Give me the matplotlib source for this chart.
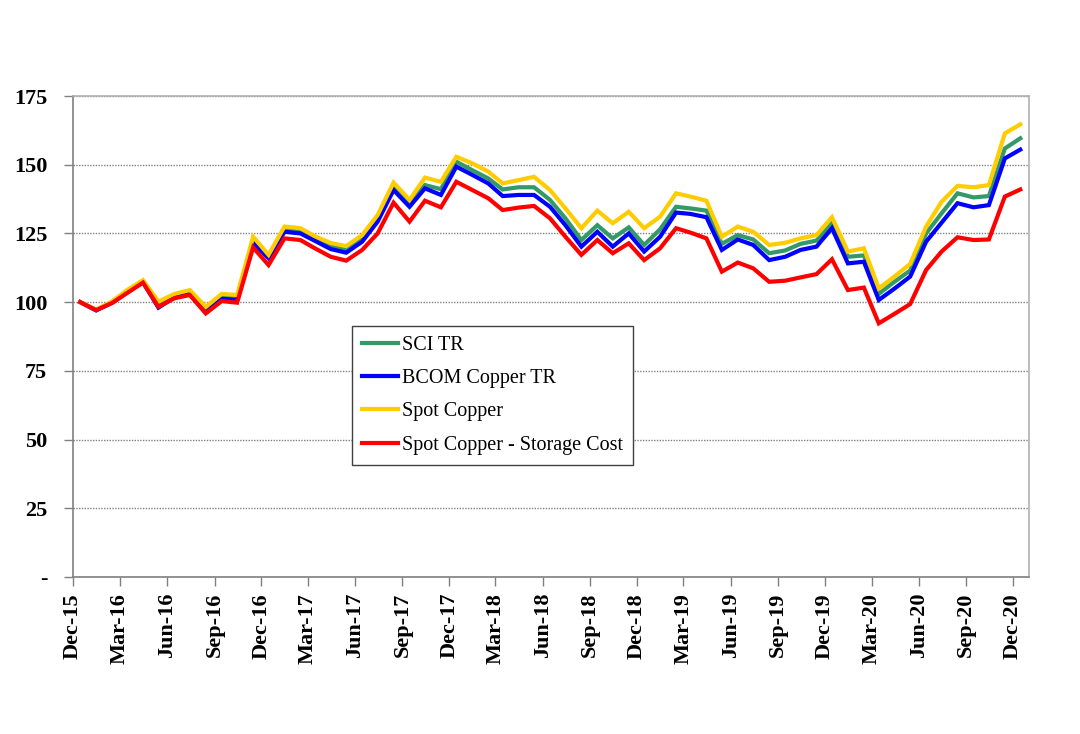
import matplotlib.pyplot as plt
import pandas as pd

# monthly index levels, Dec-15 = 100
months = pd.date_range('2015-12-01', '2020-12-01', freq='MS')
tick_months = pd.date_range('2015-12-01', '2020-12-01', freq='3MS')

sci_tr = [100, 97.1, 100, 103.8, 107.6, 98.8, 102.2, 103.5, 96.8, 101.8, 101.5,
          122.3, 116.5, 126.3, 125.7, 123, 120.2, 119, 123, 130.3, 141.9, 135.8,
          142.6, 141.1, 151.1, 148, 145, 141, 141.8, 141.8, 137.2, 130.5, 122.6,
          128, 123.2, 127.2, 120.8, 126.5, 134.7, 134.1, 133.3, 121.2, 124.4,
          122.8, 117.8, 118.8, 121.2, 122.4, 128.7, 116.5, 117, 103, 107.5,
          111.5, 125, 132.3, 139.6, 138.1, 138.6, 155.9, 159.6]
bcom_tr = [100, 97, 99.8, 103.5, 107.3, 98, 101.8, 103, 96.2, 101.2, 100.8,
           121.5, 116, 125.6, 125, 122.3, 119.3, 118, 122, 129.3, 140.8, 134.7,
           141.4, 139, 149.3, 146.3, 143.2, 138.6, 139, 139, 134.7, 128, 120.2,
           125.6, 120.2, 125, 118.4, 123.8, 132.6, 132.1, 130.9, 119, 122.8,
           120.8, 115.3, 116.5, 119, 120.2, 126.9, 114.1, 114.7, 100.8, 105,
           109.3, 122, 128.9, 136, 134.5, 135.3, 152.3, 155.5]
spot = [100, 97.3, 100.3, 104.4, 108, 100.2, 103, 104.4, 98.3, 103, 102.6,
        123.8, 117.2, 127.5, 126.9, 124, 121.5, 120.4, 124.4, 131.7, 143.5, 137.2,
        145.3, 143.8, 152.9, 150.5, 147.5, 143.2, 144.4, 145.6, 140.8, 134.1, 126.9,
        133.3, 128.7, 132.9, 126.9, 131.1, 139.6, 138.4, 136.9, 123.8, 127.5,
        125.6, 120.8, 121.6, 123.2, 124.4, 130.9, 118.4, 119.6, 105, 109.4,
        113.9, 127.5, 136.5, 142.3, 141.8, 142.6, 161.4, 164.7]
spot_storage = [100, 97.1, 99.7, 103.3, 107.1, 98.3, 101.4, 102.6, 95.9, 100.4, 99.8,
                119.9, 113.5, 123.2, 122.6, 119.6, 116.5, 115.1, 119, 125, 136.2, 129.3,
                136.9, 134.5, 143.8, 140.8, 137.8, 133.5, 134.4, 135, 130.5, 123.8, 117.2,
                122.6, 117.8, 121.4, 115.3, 119.6, 126.9, 125.3, 123.2, 111.1, 114.4,
                112.3, 107.4, 107.8, 109, 110.2, 115.6, 104.4, 105.3, 92.3, 95.8,
                99.3, 111.7, 118.4, 123.6, 122.6, 122.8, 138.4, 141]

series = [
    ('SCI TR', sci_tr, '#339966'),
    ('BCOM Copper TR', bcom_tr, '#0000FF'),
    ('Spot Copper', spot, '#FFCC00'),
    ('Spot Copper - Storage Cost', spot_storage, '#FF0000'),
]
y_ticks = [0, 25, 50, 75, 100, 125, 150, 175]

plt.rcParams['font.family'] = ['Liberation Serif', 'DejaVu Serif']

fig = plt.figure(figsize=(10.8, 7.34), dpi=100)
ax = fig.add_axes([0.0676, 0.2139, 0.8852, 0.6553])

# points sit mid-month on a date axis
x = months + pd.Timedelta(days=14)
for name, vals, col in series:
    ax.plot(x, vals, color=col, lw=3.0, label=name, solid_joinstyle='miter')

ax.set_ylim(0, 175)
ax.set_yticks(y_ticks)
ax.set_yticklabels(['-' if v == 0 else str(v) for v in y_ticks],
                   fontsize=16, fontweight='bold')
ax.set_xlim(pd.Timestamp('2015-12-01'), pd.Timestamp('2021-01-01'))
ax.set_xticks(tick_months)
ax.set_xticklabels([d.strftime('%b-%y') for d in tick_months], rotation=90,
                   fontsize=16, fontweight='bold')

ax.grid(axis='y', linestyle=(0, (1, 1)), color='#808080', lw=1.0)
ax.set_axisbelow(True)
for side in ['top', 'right']:
    ax.spines[side].set_color('#b0b0b0')
    ax.spines[side].set_linewidth(1.2)
for side in ['left', 'bottom']:
    ax.spines[side].set_color('#808080')
    ax.spines[side].set_linewidth(1.2)
ax.tick_params(axis='both', direction='out', length=6.5, width=1.0, color='#808080')
ax.tick_params(axis='y', pad=12)
ax.tick_params(axis='x', pad=5)

leg = ax.legend(loc='upper left', bbox_to_anchor=(0.326, 0.556),
                bbox_transform=fig.transFigure, borderaxespad=0,
                fontsize=14.5, handlelength=1.8, handletextpad=0.2,
                labelspacing=0.7, borderpad=0.5, fancybox=False,
                framealpha=1, edgecolor='#404040')
leg.get_frame().set_linewidth(1.0)

fig.savefig('out.png', dpi=100, facecolor='white')
